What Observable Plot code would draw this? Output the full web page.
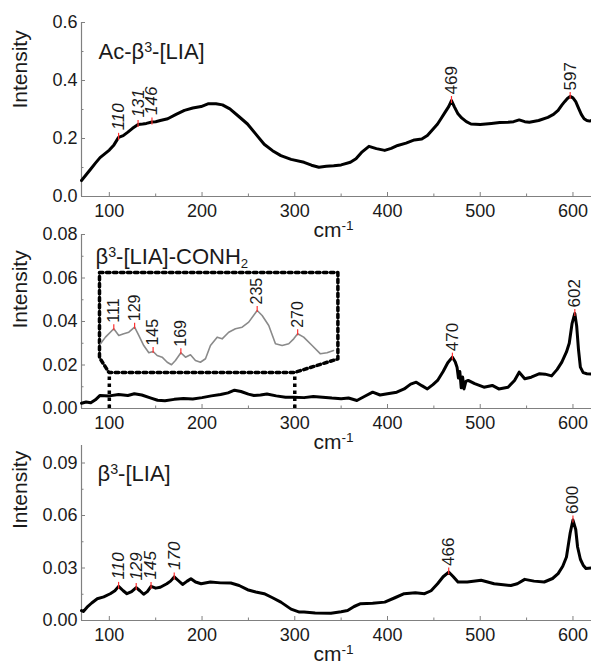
<!DOCTYPE html>
<html><head><meta charset="utf-8">
<script src="https://cdn.jsdelivr.net/npm/d3@7"></script>
<script src="https://cdn.jsdelivr.net/npm/@observablehq/plot@0.6"></script>
<style>
body{margin:0;background:#fff;}
#wrap{position:relative;width:591px;height:668px;overflow:hidden;font-family:"Liberation Sans",Arial,sans-serif;}
#wrap svg{position:absolute;left:0;}
</style></head><body><div id="wrap"></div>
<script>
// ---------- data ----------
const xTickLabels = [100, 200, 300, 400, 500, 600];
const xMinorTicks = [150, 250, 350, 450, 550];

const panel1Label = "Ac-β³-[LIA]";
const panel1YTicks = [0, 0.2, 0.4, 0.6];
const panel1YMinor = [0.1, 0.3, 0.5];
const panel1Peaks = [110, 131, 146, 469, 597];
const panel1Spectrum = [[70,0.055],[75,0.075],[80,0.095],[85,0.115],[90,0.134],[95,0.147],[100,0.16],[105,0.178],[110,0.204],[115,0.21],[120,0.222],[125,0.235],[131,0.248],[136,0.25],[140,0.252],[146,0.257],[150,0.258],[155,0.262],[163,0.268],[172,0.283],[181,0.297],[190,0.305],[199,0.31],[207,0.32],[215,0.32],[222,0.316],[230,0.302],[240,0.275],[249,0.25],[258,0.215],[267,0.18],[276,0.158],[285,0.141],[296,0.128],[310,0.118],[318,0.108],[326,0.101],[334,0.104],[342,0.106],[350,0.109],[360,0.118],[366,0.13],[372,0.152],[380,0.173],[388,0.165],[397,0.159],[404,0.166],[411,0.176],[420,0.184],[429,0.195],[437,0.198],[443,0.21],[449,0.232],[454,0.25],[458,0.27],[462,0.29],[466,0.31],[469,0.331],[472,0.31],[476,0.285],[480,0.271],[485,0.258],[490,0.25],[500,0.248],[512,0.252],[521,0.255],[530,0.256],[536,0.258],[542,0.264],[548,0.258],[553,0.256],[563,0.262],[573,0.273],[579,0.283],[584,0.297],[588,0.315],[591,0.327],[594,0.338],[597,0.345],[600,0.34],[603,0.327],[606,0.305],[609,0.283],[612,0.268],[615,0.262],[618,0.26],[620,0.262]];

const panel2Label = "β³-[LIA]-CONH₂";
const panel2YTicks = [0, 0.02, 0.04, 0.06, 0.08];
const panel2YMinor = [0.01, 0.03, 0.05, 0.07];
const panel2Peaks = [470, 602];
const panel2Spectrum = [[70,0.0024],[75,0.003],[80,0.0026],[85,0.004],[90,0.006],[100,0.0058],[110,0.0064],[120,0.006],[127,0.0068],[135,0.0062],[145,0.0048],[152,0.0038],[160,0.0036],[170,0.0042],[180,0.0046],[190,0.0044],[200,0.005],[210,0.0058],[220,0.0064],[228,0.0072],[235,0.0084],[242,0.0078],[250,0.0066],[256,0.006],[263,0.0062],[270,0.0067],[280,0.0058],[290,0.0052],[299,0.0052],[310,0.005],[320,0.0055],[330,0.0052],[340,0.0048],[350,0.0045],[358,0.0048],[367,0.0037],[375,0.0055],[384,0.0075],[392,0.0062],[400,0.0068],[410,0.0075],[418,0.009],[425,0.0112],[431,0.0121],[437,0.0105],[443,0.009],[449,0.011],[454,0.0129],[460,0.017],[465,0.021],[470,0.0236],[473,0.0215],[475,0.019],[476.5,0.014],[478,0.017],[479.5,0.0095],[481,0.0145],[482.5,0.009],[484.5,0.0125],[487,0.0129],[494,0.0114],[504,0.0098],[513,0.0106],[520,0.009],[530,0.0098],[537,0.0129],[542,0.0167],[548,0.0137],[555,0.0144],[564,0.016],[570,0.0158],[577,0.015],[583,0.018],[588,0.0213],[593,0.026],[596,0.03],[599,0.039],[602,0.0437],[604,0.038],[606,0.027],[608,0.019],[611,0.0165],[615,0.016],[620,0.0158]];

// zoomed inset of panel 2 (100–300 cm-1)
const insetPeaks = [111, 129, 145, 169, 235, 270];
const insetSpectrum = [[99.5,0.00573],[103.8,0.00628],[111,0.00698],[115.3,0.00642],[119.6,0.00656],[124,0.00669],[129,0.00711],[132.6,0.00642],[136.9,0.00558],[141.3,0.00498],[145,0.00508],[148.5,0.00475],[152.8,0.00461],[157.2,0.00419],[160.9,0.00398],[164.3,0.00433],[169,0.00498],[173,0.00461],[177.3,0.00481],[181.6,0.00433],[185.9,0.00419],[190.3,0.00448],[194.6,0.00558],[200.4,0.00628],[204.7,0.00614],[210.4,0.00669],[216.2,0.00698],[222,0.00711],[227.7,0.00753],[235,0.0085],[239.3,0.00808],[245,0.00725],[250.8,0.00573],[256.6,0.00558],[262.3,0.00573],[266.6,0.00614],[270,0.00656],[275.2,0.00628],[282.5,0.00558],[289.7,0.00489],[295.4,0.00498],[301,0.00517]];
const insetRange = [100, 300];
const insetCallout = [[89.4,0.0625],[346.5,0.0625],[346.5,0.0228],[300,0.0166],[99.5,0.0166],[89.4,0.0234],[89.4,0.0625]];

const panel3Label = "β³-[LIA]";
const panel3YTicks = [0, 0.03, 0.06, 0.09];
const panel3YMinor = [0.015, 0.045, 0.075];
const panel3Peaks = [110, 129, 145, 170, 466, 600];
const panel3Spectrum = [[70,0.0057],[72,0.0052],[76,0.0076],[81,0.01],[87,0.0124],[94,0.0135],[101,0.0153],[106,0.017],[110,0.0195],[115,0.017],[119,0.0153],[124,0.0165],[129,0.0188],[133,0.017],[137,0.015],[141,0.0165],[145,0.0195],[150,0.0185],[155,0.019],[162,0.021],[166,0.0225],[170,0.0249],[174,0.023],[179,0.0206],[184,0.0225],[188,0.0239],[193,0.022],[199,0.021],[209,0.022],[220,0.0215],[231,0.0214],[240,0.02],[249,0.0176],[258,0.0163],[267,0.0153],[276,0.013],[285,0.0105],[296,0.0065],[305,0.0048],[310,0.0048],[322,0.0043],[339,0.0042],[350,0.005],[357,0.0057],[364,0.008],[371,0.0096],[384,0.0098],[397,0.0105],[408,0.013],[418,0.0153],[430,0.0158],[440,0.0153],[447,0.017],[454,0.021],[460,0.025],[466,0.0277],[471,0.025],[476,0.022],[486,0.022],[501,0.023],[515,0.021],[533,0.02],[540,0.021],[548,0.0235],[558,0.0225],[569,0.022],[578,0.024],[584,0.0268],[589,0.031],[593,0.0363],[597,0.05],[600,0.0574],[603,0.052],[605,0.042],[608,0.035],[611,0.0316],[614,0.0297],[620,0.03]];

const xLabel = "cm⁻¹";
const yLabel = "Intensity";

// ---------- drawing ----------
const W = 591;
const FONT = '"Liberation Sans", Arial, sans-serif';
const AXIS = "#808080";
const TXT = "#1a1a1a";
const wrap = document.getElementById("wrap");

function toRows(pairs) { return pairs.map(([x, y]) => ({x, y})); }
function peakRows(peaks, rows) { return peaks.map(p => rows.find(r => r.x === p)); }

function applyScripts(svg) {
  const map = {"³": ["3", "7px", "65%"], "₂": ["2", "-4px", "60%"], "⁻¹": ["-1", "7px", "65%"]};
  svg.querySelectorAll("text").forEach(t => {
    if (t.children.length) return;
    const s = t.textContent;
    if (!/³|₂|⁻¹/.test(s)) return;
    const parts = s.split(/(³|₂|⁻¹)/).filter(p => p);
    t.textContent = "";
    for (const p of parts) {
      const ts = document.createElementNS("http://www.w3.org/2000/svg", "tspan");
      if (map[p]) {
        ts.textContent = map[p][0];
        ts.setAttribute("baseline-shift", map[p][1]);
        ts.setAttribute("font-size", map[p][2]);
      } else ts.textContent = p;
      t.appendChild(ts);
    }
  });
}

function panel(cfg) {
  const rows = toRows(cfg.spectrum);
  const peaks = peakRows(cfg.peaks, rows);
  const y0 = cfg.yDomain[0];
  const svg = Plot.plot({
    width: W, height: cfg.height,
    marginLeft: 81, marginRight: 0, marginTop: cfg.mt, marginBottom: cfg.mb,
    style: {background: "transparent", overflow: "visible", fontFamily: FONT, color: TXT},
    x: {domain: [70, 620]},
    y: {domain: cfg.yDomain},
    marks: [
      Plot.ruleX([70], {stroke: AXIS, strokeWidth: 1.2}),
      Plot.ruleY([y0], {stroke: AXIS, strokeWidth: 1.2}),
      Plot.ruleX(xTickLabels, {x: d => d, y1: () => y0, y2: () => y0, insetTop: -4, stroke: AXIS}),
      Plot.ruleX(xMinorTicks, {x: d => d, y1: () => y0, y2: () => y0, insetTop: -2.5, stroke: AXIS}),
      Plot.ruleY(cfg.yTicks, {y: d => d, x1: () => 70, x2: () => 70, insetRight: -4, stroke: AXIS}),
      Plot.ruleY(cfg.yMinor, {y: d => d, x1: () => 70, x2: () => 70, insetRight: -2.5, stroke: AXIS}),
      Plot.axisX({ticks: xTickLabels, tickSize: 0, tickPadding: 8, fontSize: 18, label: null, tickFormat: d => String(d), fill: TXT}),
      Plot.axisY({ticks: cfg.yTicks, tickSize: 0, tickPadding: 4, fontSize: 18, label: null, tickFormat: cfg.fmt, fill: TXT}),
      Plot.text([yLabel], {text: d => d, frameAnchor: "left", rotate: -90, dx: -61, dy: cfg.idy, fontSize: 21, fill: TXT}),
      Plot.text([xLabel], {text: d => d, frameAnchor: "bottom", lineAnchor: "bottom", dx: -3, dy: 40, fontSize: 21, fill: TXT}),
      Plot.text([cfg.label], {text: d => d, frameAnchor: "top-left", textAnchor: "start", lineAnchor: "bottom", dx: cfg.ldx, dy: cfg.ldy, fontSize: 22, fill: TXT}),
      ...(cfg.extra || []),
      Plot.line(rows, {x: "x", y: "y", stroke: "#000", strokeWidth: 3, strokeLinejoin: "round"}),
      Plot.ruleX(peaks, {x: "x", y1: "y", y2: "y", insetTop: -4, insetBottom: -3, stroke: "#ff3030", strokeWidth: 1.2}),
      Plot.text(peaks.filter(d => d.x < cfg.italicBelow), {x: "x", y: "y", text: d => String(d.x), rotate: -90, textAnchor: "start", dy: -7, fontSize: 17, fontStyle: "italic", fill: TXT}),
      Plot.text(peaks.filter(d => d.x >= cfg.italicBelow), {x: "x", y: "y", text: d => String(d.x), rotate: -90, textAnchor: "start", dy: -6, fontSize: 17, fill: TXT})
    ]
  });
  svg.style.top = cfg.top + "px";
  applyScripts(svg);
  wrap.appendChild(svg);
}

panel({spectrum: panel1Spectrum, peaks: panel1Peaks, label: panel1Label, yTicks: panel1YTicks, yMinor: panel1YMinor,
  yDomain: [0, 0.6], fmt: d3.format(".1f"), top: 0, height: 245, mt: 22, mb: 49, ldx: 17, ldy: 36, idy: -1, italicBelow: 200});

panel({spectrum: panel2Spectrum, peaks: panel2Peaks, label: panel2Label, yTicks: panel2YTicks, yMinor: panel2YMinor,
  yDomain: [0, 0.08], fmt: d3.format(".2f"), top: 210, height: 245, mt: 24, mb: 47, ldx: 14, ldy: 29, idy: 7, italicBelow: 0,
  extra: [
    Plot.line(toRows(insetCallout), {x: "x", y: "y", stroke: "#000", strokeWidth: 3.5, strokeDasharray: "3.5 3.5"}),
    Plot.ruleX(insetRange, {x: d => d, y1: () => 0, y2: () => insetCallout[4][1], stroke: "#000", strokeWidth: 3.5, strokeDasharray: "3.5 3.5"})
  ]});

panel({spectrum: panel3Spectrum, peaks: panel3Peaks, label: panel3Label, yTicks: panel3YTicks, yMinor: panel3YMinor,
  yDomain: [0, 0.1], fmt: d3.format(".2f"), top: 425, height: 243, mt: 20, mb: 48, ldx: 16, ldy: 35, idy: -4, italicBelow: 200});

// inset chart
{
  const rows = toRows(insetSpectrum);
  const peaks = peakRows(insetPeaks, rows);
  const svg = Plot.plot({
    width: W, height: 245,
    marginLeft: 100, marginRight: 258, marginTop: 94, marginBottom: 85,
    style: {background: "transparent", overflow: "visible", fontFamily: FONT, color: TXT},
    x: {domain: [99.5, 301], axis: null},
    y: {domain: [0.0035, 0.009], axis: null},
    marks: [
      Plot.line(rows, {x: "x", y: "y", stroke: "#8a8a8a", strokeWidth: 1.6, strokeLinejoin: "round"}),
      Plot.ruleX(peaks, {x: "x", y1: "y", y2: "y", insetTop: -4, insetBottom: -2, stroke: "#ff3030", strokeWidth: 1.2}),
      Plot.text(peaks, {x: "x", y: "y", text: d => String(d.x), rotate: -90, textAnchor: "start", dy: -6, fontSize: 16, fill: TXT})
    ]
  });
  svg.style.top = "210px";
  wrap.appendChild(svg);
}
</script></body></html>
